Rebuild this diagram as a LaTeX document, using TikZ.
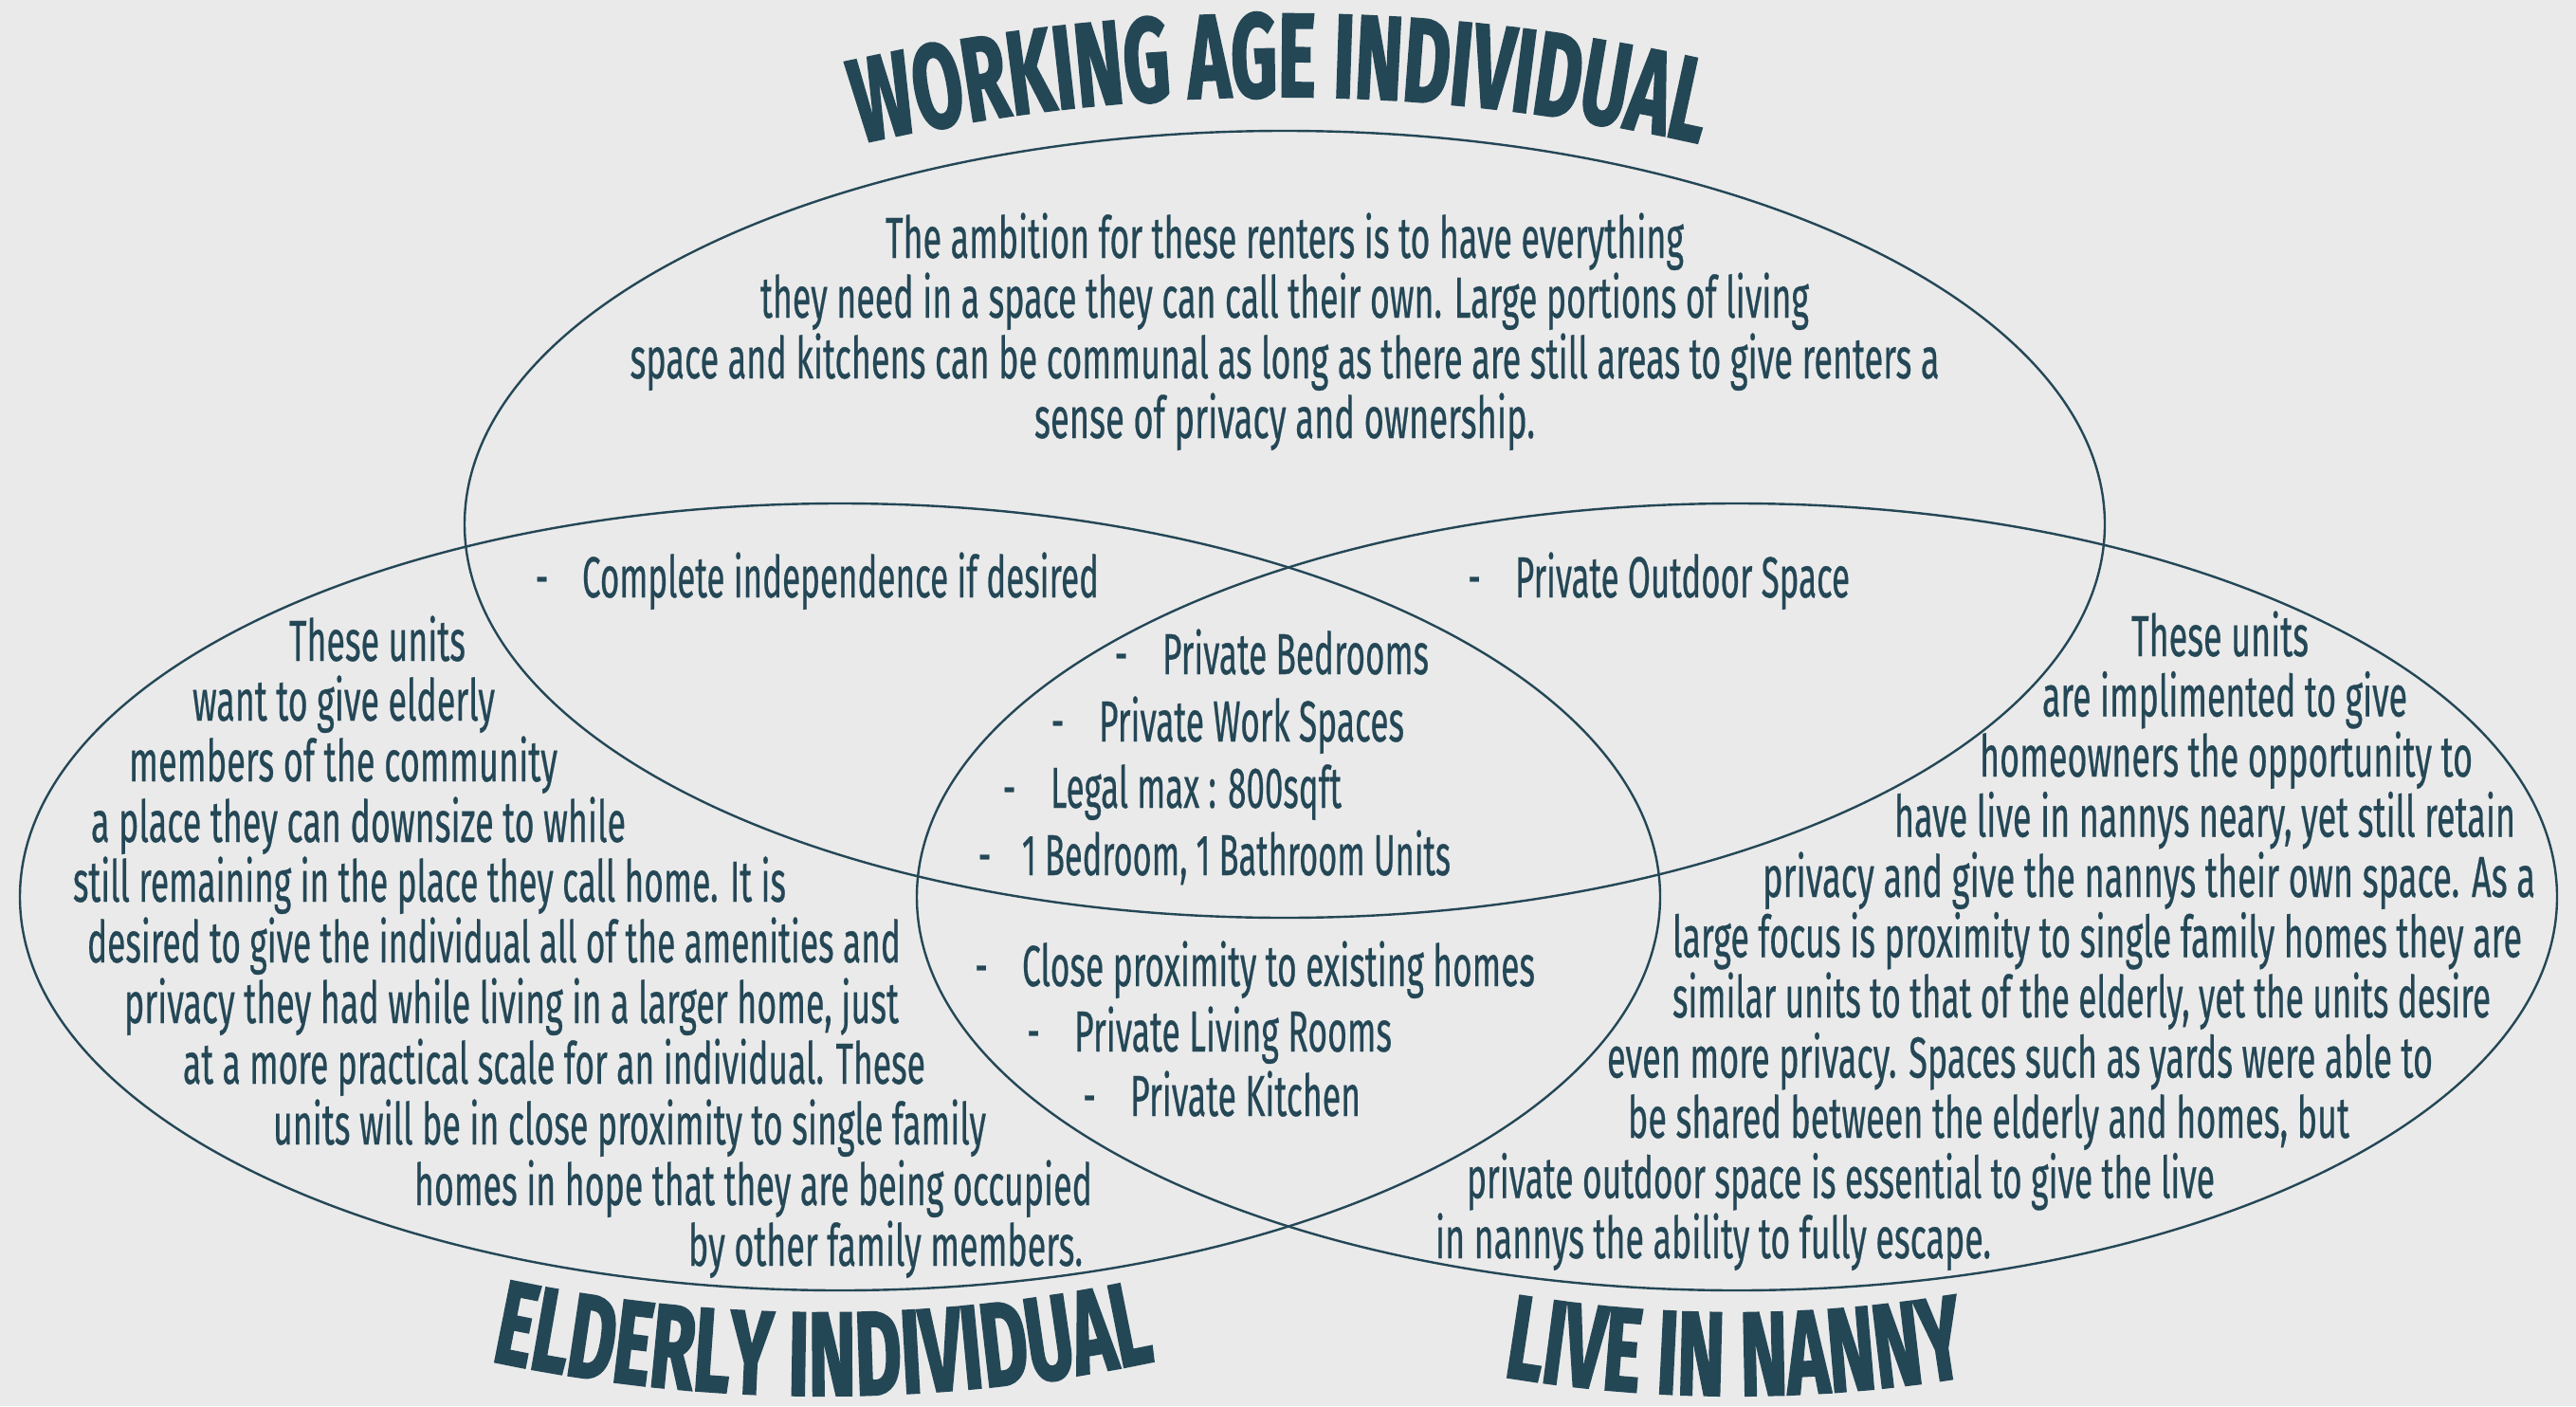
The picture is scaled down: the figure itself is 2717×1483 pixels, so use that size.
\documentclass[tikz,border=0pt]{standalone}
\usepackage{fontspec}
\usepackage{graphicx}
\setmainfont{Fira Sans}[FakeBold=0.6]
\newfontfamily\titlefont[FakeStretch=0.6, FakeBold=1.6]{Fira Sans}
\usetikzlibrary{shapes.geometric,decorations.text,calc}
\definecolor{ink}{RGB}{36,71,86}
\definecolor{bgc}{RGB}{234,234,234}
\newsavebox\fitbox
\newcommand\fitline[2]{\sbox\fitbox{#2}\pgfmathsetmacro\fitr{#1pt/\the\wd\fitbox}\scalebox{\fitr}[1]{\usebox\fitbox}}
\newcommand\titlestyle{\titlefont\bfseries\fontsize{126}{126}\selectfont\color{ink}}
\begin{document}
\begin{tikzpicture}[x=1pt,y=-1pt,
  every node/.style={inner sep=0pt, outer sep=0pt, text=ink},
  body/.style={anchor=base, font=\fontsize{61}{64}\selectfont},
  item/.style={anchor=base west, font=\fontsize{61}{64}\selectfont},
  dashmark/.style={anchor=base, font=\fontsize{61}{64}\selectfont},
  ring/.style={ellipse, draw=ink, line width=2.4pt, minimum width=1730pt, minimum height=830pt}]
\fill[bgc] (0,0) rectangle (2717,1483);
\useasboundingbox (0,0) rectangle (2717,1483);

% circles
\node[ring] (working) at (1355,553) {};
\node[ring] (elderly) at (886,946) {};
\node[ring] (nanny) at (1832,946) {};

% titles
\path[decorate, decoration={text along path, text align=center,
  text={|\titlestyle|WORKING AGE INDIVIDUAL}}]
  ($(1350,2102)+(-115:2000)$) arc[start angle=-115, end angle=-65, radius=2000];
\path[decorate, decoration={text along path, text align=center,
  text={|\titlestyle|ELDERLY INDIVIDUAL}}]
  ($(868,-228)+(115:1700)$) arc[start angle=115, end angle=65, radius=1700];
\path[decorate, decoration={text along path, text align=center,
  text={|\titlestyle|LIVE IN NANNY}}]
  ($(1830,-28)+(115:1500)$) arc[start angle=115, end angle=65, radius=1500];

% working age text
\node[body] (w1) at (1355,272) {\fitline{842}{The ambition for these renters is to have everything}};
\node[body] (w2) at (1355,335) {\fitline{1106}{they need in a space they can call their own. Large portions of living}};
\node[body] (w3) at (1355,399) {\fitline{1381}{space and kitchens can be communal as long as there are still areas to give renters a}};
\node[body] (w4) at (1355,462) {\fitline{528}{sense of privacy and ownership.}};

% elderly text
\node[body] (e1) at (398,697) {\fitline{186}{These units}};
\node[body] (e2) at (362.5,760) {\fitline{319}{want to give elderly}};
\node[body] (e3) at (362,824) {\fitline{452}{members of the community}};
\node[body] (e4) at (378,888) {\fitline{564}{a place they can downsize to while}};
\node[body] (e5) at (453,951) {\fitline{752}{still remaining in the place they call home. It is}};
\node[body] (e6) at (521,1015) {\fitline{858}{desired to give the individual all of the amenities and}};
\node[body] (e7) at (539.5,1079) {\fitline{817}{privacy they had while living in a larger home, just}};
\node[body] (e8) at (584.5,1143) {\fitline{783}{at a more practical scale for an individual. These}};
\node[body] (e9) at (664,1207) {\fitline{752}{units will be in close proximity to single family}};
\node[body] (e10) at (794.5,1271) {\fitline{715}{homes in hope that they are being occupied}};
\node[body] (e11) at (934,1335) {\fitline{416}{by other family members.}};

% nanny text
\node[body] (n1) at (2341.5,692) {\fitline{187}{These units}};
\node[body] (n2) at (2346.5,755.5) {\fitline{385}{are implimented to give}};
\node[body] (n3) at (2348,819) {\fitline{520}{homeowners the opportunity to}};
\node[body] (n4) at (2325.5,882.5) {\fitline{655}{have live in nannys neary, yet still retain}};
\node[body] (n5) at (2266.5,946) {\fitline{815}{privacy and give the nannys their own space. As a}};
\node[body] (n6) at (2212,1009.5) {\fitline{896}{large focus is proximity to single family homes they are}};
\node[body] (n7) at (2195.5,1073) {\fitline{863}{similar units to that of the elderly, yet the units desire}};
\node[body] (n8) at (2130.5,1136.5) {\fitline{871}{even more privacy. Spaces such as yards were able to}};
\node[body] (n9) at (2097.5,1200) {\fitline{761}{be shared between the elderly and homes, but}};
\node[body] (n10) at (1941.5,1263.5) {\fitline{789}{private outdoor space is essential to give the live}};
\node[body] (n11) at (1807,1327) {\fitline{586}{in nannys the ability to fully escape.}};

% overlap lists
\node[dashmark] (da) at (571.5,630) {\scalebox{0.55}[1]{-}};
\node[item] (ia) at (614,630) {\fitline{545}{Complete independence if desired}};
\node[dashmark] (db) at (1555,630) {\scalebox{0.55}[1]{-}};
\node[item] (ib) at (1598,630) {\fitline{353}{Private Outdoor Space}};

\node[dashmark] (dc1) at (1182.5,711) {\scalebox{0.55}[1]{-}};
\node[item] (ic1) at (1226,711) {\fitline{281}{Private Bedrooms}};
\node[dashmark] (dc2) at (1115.5,782) {\scalebox{0.55}[1]{-}};
\node[item] (ic2) at (1159,782) {\fitline{322}{Private Work Spaces}};
\node[dashmark] (dc3) at (1064.5,852) {\scalebox{0.55}[1]{-}};
\node[item] (ic3) at (1108,852) {\fitline{307}{Legal max : 800sqft}};
\node[dashmark] (dc4) at (1038.5,923) {\scalebox{0.55}[1]{-}};
\node[item] (ic4) at (1078,923) {\fitline{452}{1 Bedroom, 1 Bathroom Units}};

\node[dashmark] (dd1) at (1035,1040) {\scalebox{0.55}[1]{-}};
\node[item] (id1) at (1078,1040) {\fitline{541}{Close proximity to existing homes}};
\node[dashmark] (dd2) at (1090,1109) {\scalebox{0.55}[1]{-}};
\node[item] (id2) at (1133,1109) {\fitline{335}{Private Living Rooms}};
\node[dashmark] (dd3) at (1149,1177) {\scalebox{0.55}[1]{-}};
\node[item] (id3) at (1192,1177) {\fitline{243}{Private Kitchen}};
\end{tikzpicture}
\end{document}
